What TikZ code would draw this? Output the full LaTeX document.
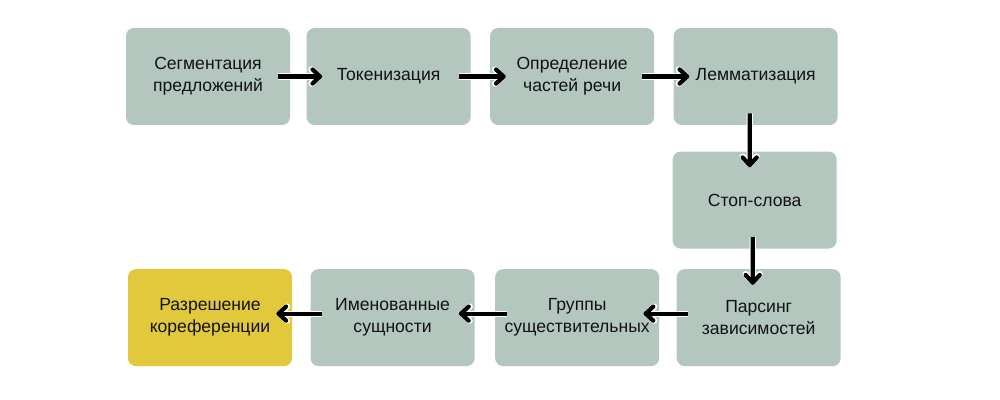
\documentclass[tikz,border=0pt]{standalone}
\usepackage{fontspec}
\setmainfont{Liberation Sans}
\usetikzlibrary{positioning, arrows.meta}
\definecolor{stepgrey}{HTML}{B3C7BF}
\definecolor{stepyellow}{HTML}{E2C93C}

\begin{document}
\begin{tikzpicture}[node distance=0.5cm]
	\tikzstyle{stepbox} = [rectangle, rounded corners=0.2cm, minimum width=4.1cm,
	minimum height=2.425cm, inner sep=0pt, align=center, fill=stepgrey,
	text=black!93, font=\fontsize{12.5}{15.6}\selectfont]
	\tikzstyle{lastbox} = [stepbox, fill=stepyellow]
	\tikzstyle{arrow} = [line width=3pt, -{Straight Barb[length=5.5pt, width=10pt, round]},
	shorten <=-0.3cm, shorten >=-0.4cm,
	preaction={draw=white, line width=4.4pt, -{Straight Barb[length=5.5pt, width=10pt, round]}}]
	\useasboundingbox[fill=white] (0,0) rectangle (25,-10);
	\node (segment) [stepbox] at (5.2,-1.9125) {Сегментация\\предложений};
	\node (token) [stepbox, right=0.4cm of segment] {Токенизация};
	\node (pos) [stepbox, right=0.475cm of token] {Определение\\частей речи};
	\node (lemma) [stepbox, right=0.475cm of pos] {Лемматизация};
	\node (stop) [stepbox, below=0.65cm of lemma, xshift=-0.025cm] {Стоп-слова};
	\node (parse) [stepbox, below=of stop, xshift=0.1cm] {Парсинг\\зависимостей};
	\node (nouns) [stepbox, left=0.425cm of parse] {Группы\\существительных};
	\node (named) [stepbox, left=0.5cm of nouns] {Именованные\\сущности};
	\node (coref) [lastbox, left=0.45cm of named] {Разрешение\\кореференции};
	\draw [arrow] (segment) -- (token);
	\draw [arrow] (token) -- (pos);
	\draw [arrow] (pos) -- (lemma);
	\draw [arrow] ([xshift=-0.15cm]lemma.south) -- ([xshift=-0.125cm]stop.north);
	\draw [arrow] ([xshift=-0.05cm]stop.south) -- ([xshift=-0.15cm]parse.north);
	\draw [arrow] ([yshift=0.1cm]parse.west) -- ([yshift=0.1cm]nouns.east);
	\draw [arrow] ([yshift=0.1cm]nouns.west) -- ([yshift=0.1cm]named.east);
	\draw [arrow] ([yshift=0.1cm]named.west) -- ([yshift=0.1cm]coref.east);
\end{tikzpicture}
\end{document}
